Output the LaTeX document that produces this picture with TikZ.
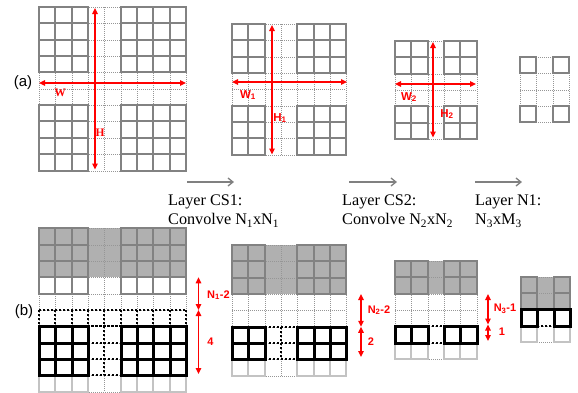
\documentclass[tikz,border=0pt]{standalone}
\usepackage{fontspec}
\setmainfont{Liberation Serif}
\newfontfamily\arialf{Liberation Sans}
\usetikzlibrary{arrows.meta}
\definecolor{gline}{RGB}{130,130,130}
\definecolor{dline}{RGB}{150,150,150}
\definecolor{lline}{RGB}{195,195,195}
\definecolor{shadec}{RGB}{176,176,176}
\definecolor{redc}{RGB}{255,0,0}
\definecolor{arrg}{RGB}{128,128,128}
\def\cellsz{16.35}
\newcommand\blk[7]{%
 \pgfmathtruncatemacro\blkia{#4}%
 \pgfmathtruncatemacro\blkib{#5+1}%
 \pgfmathtruncatemacro\blkja{#6}%
 \pgfmathtruncatemacro\blkjb{#7+1}%
 \foreach \ii in {\blkia,...,\blkib}{\draw[#1] ({round(#2+\ii*\cellsz)},{round(#3+\blkja*\cellsz)}) -- ({round(#2+\ii*\cellsz)},{round(#3+\blkjb*\cellsz)});}%
 \foreach \jj in {\blkja,...,\blkjb}{\draw[#1] ({round(#2+\blkia*\cellsz)},{round(#3+\jj*\cellsz)}) -- ({round(#2+\blkib*\cellsz)},{round(#3+\jj*\cellsz)});}%
}
\newcommand\shd[4]{% x0 y0 ncols nrows
 \fill[shadefill] ({round(#1)},{round(#2)}) rectangle ({round(#1+#3*\cellsz)},{round(#2+#4*\cellsz)});}
\tikzset{
 solidg/.style={draw=gline,line width=2pt,line cap=rect},
 dotl/.style={draw=dline,line width=1pt,dash pattern=on 1pt off 1pt},
 lightg/.style={draw=lline,line width=2pt,line cap=rect},
 blacks/.style={draw=black,line width=3pt,line cap=rect},
 blackd/.style={draw=black,line width=2pt,dash pattern=on 2pt off 2pt},
 shadefill/.style={fill=shadec},
 dimarrow/.style={draw=redc,line width=1.3pt,{Triangle[length=6pt,width=5.5pt]}-{Triangle[length=6pt,width=5.5pt]}},
 flowarrow/.style={draw=arrg,line width=1.3pt,-{Straight Barb[length=5pt,width=8pt]}},
 redlab/.style={text=redc,font=\arialf\bfseries\fontsize{11.5}{13}\selectfont,inner sep=0pt},
 redser/.style={text=redc,font=\bfseries\fontsize{11.5}{13}\selectfont,inner sep=0pt},
 redlabb/.style={text=redc,font=\arialf\bfseries\fontsize{11}{13}\selectfont,inner sep=0pt},
 lay/.style={font=\fontsize{16.2}{19}\selectfont,inner sep=0pt,anchor=base west},
 partlab/.style={font=\arialf\fontsize{15}{17}\selectfont,inner sep=0pt},
}
\begin{document}
\begin{tikzpicture}[x=1pt,y=-1pt]
\useasboundingbox[fill=white] (0,0) rectangle (578,392);
% ---------- (a) grids ----------
% A1
\blk{dotl}{39}{7}{0}{8}{0}{9}
\blk{solidg}{39}{7}{0}{2}{0}{3}
\blk{solidg}{39}{7}{5}{8}{0}{3}
\blk{solidg}{39}{7}{0}{2}{6}{9}
\blk{solidg}{39}{7}{5}{8}{6}{9}
% A2
\blk{dotl}{232}{24}{0}{6}{0}{7}
\blk{solidg}{232}{24}{0}{1}{0}{2}
\blk{solidg}{232}{24}{4}{6}{0}{2}
\blk{solidg}{232}{24}{0}{1}{5}{7}
\blk{solidg}{232}{24}{4}{6}{5}{7}
% A3
\blk{dotl}{395}{41}{0}{4}{0}{5}
\blk{solidg}{395}{41}{0}{1}{0}{1}
\blk{solidg}{395}{41}{3}{4}{0}{1}
\blk{solidg}{395}{41}{0}{1}{4}{5}
\blk{solidg}{395}{41}{3}{4}{4}{5}
% A4
\blk{dotl}{520}{57}{0}{2}{0}{3}
\blk{solidg}{520}{57}{0}{0}{0}{0}
\blk{solidg}{520}{57}{2}{2}{0}{0}
\blk{solidg}{520}{57}{0}{0}{3}{3}
\blk{solidg}{520}{57}{2}{2}{3}{3}
% dimension arrows (a)
\coordinate (w0a) at (39,83); \coordinate (w0b) at (186,83);
\coordinate (h0a) at (95,8); \coordinate (h0b) at (95,169.5);
\draw[dimarrow] (w0a) -- (w0b);
\draw[dimarrow] (h0a) -- (h0b);
\coordinate (w1a) at (232,82); \coordinate (w1b) at (347,82);
\coordinate (h1a) at (272,25); \coordinate (h1b) at (272,154.5);
\draw[dimarrow] (w1a) -- (w1b);
\draw[dimarrow] (h1a) -- (h1b);
\coordinate (w2a) at (395,84); \coordinate (w2b) at (476,84);
\coordinate (h2a) at (433,42); \coordinate (h2b) at (433,137.5);
\draw[dimarrow] (w2a) -- (w2b);
\draw[dimarrow] (h2a) -- (h2b);
\node[redser] (lw) at (60,93) {W};
\node[redser] (lh) at (100,133) {H};
\node[redlab] (lw1) at (248,95) {W\textsubscript{1}};
\node[redlab] (lh1) at (280,118) {H\textsubscript{1}};
\node[redlab] (lw2) at (409,97) {W\textsubscript{2}};
\node[redlab] (lh2) at (447,114) {H\textsubscript{2}};
\node[partlab] (pa) at (23,83) {(a)};
\node[partlab] (pb) at (24,311.5) {(b)};
% ---------- layer texts ----------
\coordinate (f1a) at (187,182); \coordinate (f1b) at (234,182);
\coordinate (f2a) at (349,182); \coordinate (f2b) at (397,182);
\coordinate (f3a) at (475,182); \coordinate (f3b) at (522,182);
\draw[flowarrow] (f1a) -- (f1b);
\draw[flowarrow] (f2a) -- (f2b);
\draw[flowarrow] (f3a) -- (f3b);
\node[lay] (t1a) at (168,205.7) {Layer CS1:};
\node[lay] (t1b) at (168,224.5) {Convolve N\textsubscript{1}xN\textsubscript{1}};
\node[lay] (t2a) at (342,205.7) {Layer CS2:};
\node[lay] (t2b) at (342,224.5) {Convolve N\textsubscript{2}xN\textsubscript{2}};
\node[lay] (t3a) at (475,205.7) {Layer N1:};
\node[lay] (t3b) at (475,224.5) {N\textsubscript{3}xM\textsubscript{3}};
% ---------- (b) grids ----------
% B1
\shd{39}{228.3}{9}{3}
\blk{dotl}{39}{228.3}{0}{8}{0}{9}
\blk{solidg}{39}{228.3}{0}{2}{0}{3}
\blk{solidg}{39}{228.3}{5}{8}{0}{3}
\blk{lightg}{39}{228.3}{0}{2}{9}{9}
\blk{lightg}{39}{228.3}{5}{8}{9}{9}
\blk{blackd}{39}{228.3}{0}{8}{5}{5}
\blk{blackd}{39}{228.3}{3}{4}{6}{8}
\blk{blacks}{39}{228.3}{0}{2}{6}{8}
\blk{blacks}{39}{228.3}{5}{8}{6}{8}
% B2
\shd{232}{245}{7}{3}
\blk{dotl}{232}{245}{0}{6}{0}{7}
\blk{solidg}{232}{245}{0}{1}{0}{2}
\blk{solidg}{232}{245}{4}{6}{0}{2}
\blk{lightg}{232}{245}{0}{1}{7}{7}
\blk{lightg}{232}{245}{4}{6}{7}{7}
\blk{blackd}{232}{245}{2}{3}{5}{6}
\blk{blacks}{232}{245}{0}{1}{5}{6}
\blk{blacks}{232}{245}{4}{6}{5}{6}
% B3
\shd{395}{261}{5}{2}
\blk{dotl}{395}{261}{0}{4}{0}{5}
\blk{solidg}{395}{261}{0}{1}{0}{1}
\blk{solidg}{395}{261}{3}{4}{0}{1}
\blk{lightg}{395}{261}{0}{1}{5}{5}
\blk{lightg}{395}{261}{3}{4}{5}{5}
\blk{blackd}{395}{261}{2}{2}{4}{4}
\blk{blacks}{395}{261}{0}{1}{4}{4}
\blk{blacks}{395}{261}{3}{4}{4}{4}
% B4
\shd{521}{276.7}{3}{2}
\blk{dotl}{521}{276.7}{0}{2}{0}{3}
\blk{solidg}{521}{276.7}{0}{0}{0}{1}
\blk{solidg}{521}{276.7}{2}{2}{0}{1}
\blk{lightg}{521}{276.7}{0}{0}{3}{3}
\blk{lightg}{521}{276.7}{2}{2}{3}{3}
\draw[blackd,line width=1.2pt] ({round(521+\cellsz)},{round(276.7+3*\cellsz)}) -- ({round(521+2*\cellsz)},{round(276.7+3*\cellsz)});
\blk{blacks}{521}{276.7}{0}{0}{2}{2}
\blk{blacks}{521}{276.7}{2}{2}{2}{2}
\draw[blacks] ({round(521+\cellsz)},{round(276.7+2*\cellsz)}) -- ({round(521+2*\cellsz)},{round(276.7+2*\cellsz)});
% dimension arrows (b)
\coordinate (b1a) at (198.5,277.35); \coordinate (b1m) at (198.5,310.05); \coordinate (b1b) at (198.5,374);
\draw[dimarrow] (b1a) -- (b1m);
\draw[dimarrow] (b1m) -- (b1b);
\coordinate (b2a) at (361,294); \coordinate (b2m) at (361,326.75); \coordinate (b2b) at (361,357);
\draw[dimarrow] (b2a) -- (b2m);
\draw[dimarrow] (b2m) -- (b2b);
\coordinate (b3a) at (488,294); \coordinate (b3m) at (488,324.5); \coordinate (b3b) at (488,341);
\draw[dimarrow] (b3a) -- (b3m);
\draw[dimarrow] (b3m) -- (b3b);
\node[redlabb] (n1) at (218.5,295) {N\textsubscript{1}-2};
\node[redlabb] (n1b) at (210.5,342) {4};
\node[redlabb] (n2) at (379,310) {N\textsubscript{2}-2};
\node[redlabb] (n2b) at (371,342) {2};
\node[redlabb] (n3) at (505,309) {N\textsubscript{3}-1};
\node[redlabb] (n3b) at (502,332) {1};
\end{tikzpicture}
\end{document}
